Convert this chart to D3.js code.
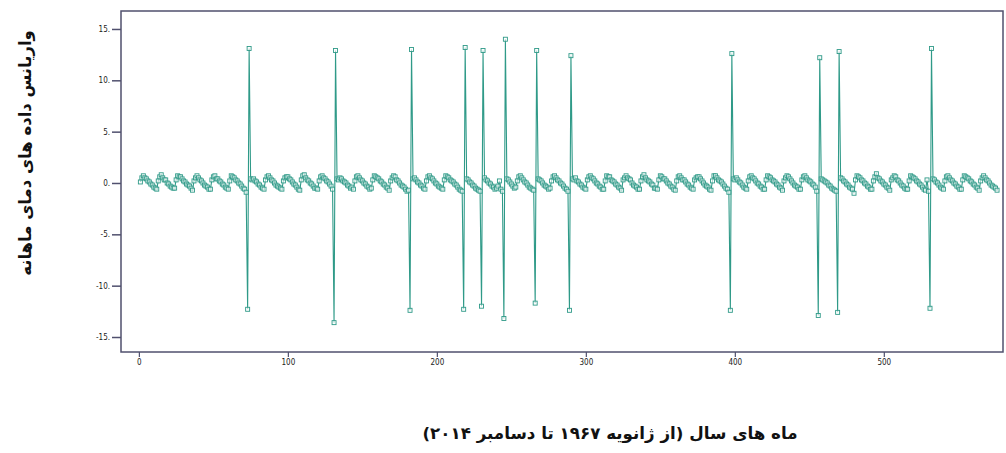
<!DOCTYPE html>
<html>
<head>
<meta charset="utf-8">
<script src="https://cdn.jsdelivr.net/npm/d3@7"></script>
<style>
  body { margin: 0; background: #fff; }
  svg { display: block; }
</style>
</head>
<body>
<svg width="1006" height="453"></svg>
<script>
// monthly values, one row per year (Jan 1967 .. Dec 2014)
var monthlyRows = [
  [0.1,0.5,0.7,0.5,0.4,0.2,0.1,-0.1,-0.2,-0.4,-0.5,-0.6],
  [0.2,0.6,0.8,0.5,0.3,0.3,0.0,-0.1,-0.3,-0.4,-0.5,-0.5],
  [0.3,0.7,0.6,0.6,0.4,0.2,0.1,-0.1,-0.2,-0.3,-0.5,-0.7],
  [0.2,0.5,0.7,0.5,0.3,0.2,0.0,-0.2,-0.3,-0.4,-0.6,-0.6],
  [0.3,0.6,0.7,0.4,0.4,0.2,0.1,-0.1,-0.2,-0.4,-0.5,-0.6],
  [0.2,0.7,0.6,0.5,0.3,0.2,0.0,-0.1,-0.3,-0.5,-0.6,-0.9],
  [0.0,0.0,0.4,0.3,0.4,0.2,0.1,-0.1,-0.2,-0.4,-0.5,-0.6],
  [0.3,0.6,0.7,0.5,0.3,0.2,0.0,-0.2,-0.3,-0.4,-0.5,-0.6],
  [0.2,0.5,0.6,0.6,0.4,0.3,0.1,-0.1,-0.2,-0.4,-0.6,-0.7],
  [0.3,0.7,0.8,0.5,0.3,0.2,0.0,-0.1,-0.3,-0.5,-0.5,-0.6],
  [0.2,0.6,0.7,0.5,0.4,0.2,0.1,-0.1,-0.3,-0.6,0.0,0.0],
  [0.4,0.3,0.5,0.4,0.2,0.1,0.0,-0.2,-0.3,-0.5,-0.4,-0.6],
  [0.2,0.6,0.7,0.5,0.3,0.2,0.0,-0.1,-0.3,-0.4,-0.6,-0.5],
  [0.3,0.7,0.6,0.5,0.4,0.2,0.1,-0.1,-0.2,-0.4,-0.5,-0.7],
  [0.2,0.5,0.7,0.6,0.3,0.2,0.0,-0.2,-0.3,-0.4,-0.6,-0.8],
  [-0.7,0.0,0.0,0.4,0.5,0.3,0.1,0.0,-0.2,-0.3,-0.5,-0.6],
  [0.2,0.6,0.7,0.5,0.4,0.2,0.0,-0.1,-0.3,-0.4,-0.5,-0.6],
  [0.3,0.7,0.6,0.5,0.3,0.2,0.1,-0.1,-0.2,-0.4,-0.6,-0.7],
  [-0.8,0.0,0.0,0.4,0.3,0.1,0.0,-0.2,-0.3,-0.5,-0.6,-0.7],
  [-0.8,0.0,0.0,0.5,0.3,0.2,0.0,-0.1,-0.3,-0.4,-0.6,-0.5],
  [-0.3,0.2,-0.6,-0.8,0.0,0.0,0.4,0.3,0.1,-0.1,-0.3,-0.5],
  [-0.4,0.2,0.6,0.7,0.5,0.3,0.1,0.0,-0.2,-0.4,-0.5,-0.6],
  [-0.7,0.0,0.0,0.4,0.3,0.2,0.0,-0.2,-0.3,-0.4,-0.6,-0.5],
  [0.2,0.6,0.7,0.5,0.3,0.2,0.0,-0.1,-0.3,-0.5,-0.6,-0.8],
  [0.0,0.0,0.4,0.3,0.5,0.2,0.1,-0.1,-0.2,-0.4,-0.5,-0.6],
  [0.3,0.6,0.7,0.5,0.4,0.2,0.0,-0.1,-0.3,-0.4,-0.6,-0.6],
  [0.2,0.7,0.6,0.6,0.3,0.2,0.1,-0.1,-0.2,-0.4,-0.5,-0.7],
  [0.3,0.5,0.7,0.5,0.4,0.3,0.0,-0.2,-0.3,-0.4,-0.6,-0.6],
  [0.2,0.6,0.8,0.5,0.3,0.2,0.1,-0.1,-0.2,-0.5,-0.5,-0.6],
  [0.3,0.7,0.6,0.4,0.4,0.2,0.0,-0.1,-0.3,-0.4,-0.6,-0.7],
  [0.2,0.6,0.7,0.5,0.3,0.3,0.1,-0.1,-0.2,-0.4,-0.5,-0.6],
  [0.3,0.5,0.6,0.6,0.4,0.2,0.0,-0.2,-0.3,-0.4,-0.6,-0.7],
  [0.2,0.7,0.7,0.5,0.3,0.2,0.1,-0.1,-0.3,-0.5,-0.6,-0.9],
  [0.0,0.0,0.4,0.3,0.5,0.3,0.1,0.0,-0.2,-0.4,-0.5,-0.6],
  [0.2,0.6,0.7,0.5,0.4,0.2,0.0,-0.1,-0.3,-0.4,-0.6,-0.6],
  [0.3,0.7,0.6,0.5,0.3,0.2,0.1,-0.1,-0.2,-0.4,-0.5,-0.7],
  [0.2,0.5,0.7,0.6,0.4,0.2,0.0,-0.2,-0.3,-0.4,-0.6,-0.6],
  [0.3,0.6,0.7,0.5,0.3,0.2,0.1,-0.1,-0.2,-0.4,-0.8,0.0],
  [0.0,0.4,0.3,0.2,0.1,0.0,-0.2,-0.3,-0.5,-0.6,-0.7,-0.8],
  [0.0,0.0,0.5,0.4,0.2,0.1,-0.1,-0.2,-0.4,-0.5,-0.6,-1.0],
  [0.3,0.7,0.6,0.5,0.3,0.2,0.0,-0.1,-0.3,-0.4,-0.6,-0.6],
  [0.2,0.6,0.9,0.5,0.4,0.2,0.1,-0.1,-0.2,-0.4,-0.5,-0.7],
  [0.3,0.5,0.7,0.6,0.3,0.2,0.0,-0.2,-0.3,-0.5,-0.6,-0.6],
  [0.2,0.7,0.6,0.5,0.4,0.2,0.1,-0.1,-0.2,-0.4,-0.6,-0.7],
  [0.3,-0.8,0.0,0.0,0.4,0.3,0.1,0.0,-0.2,-0.4,-0.5,-0.6],
  [0.2,0.6,0.7,0.5,0.3,0.2,0.0,-0.1,-0.3,-0.4,-0.6,-0.6],
  [0.3,0.7,0.6,0.5,0.4,0.2,0.1,-0.1,-0.2,-0.4,-0.5,-0.7],
  [0.2,0.5,0.7,0.5,0.3,0.2,0.0,-0.2,-0.3,-0.4,-0.5,-0.7]
];

// the big jumps: month number, low value, then high value the next month
var spikeMonths = [73, 131, 182, 218, 230, 245, 266, 289, 397, 456, 469, 531];
var spikeLow  = [-12.3, -13.6, -12.4, -12.3, -12.0, -13.2, -11.7, -12.4, -12.4, -12.9, -12.6, -12.2];
var spikeHigh = [13.1, 12.9, 13.0, 13.2, 12.9, 14.0, 12.9, 12.4, 12.6, 12.2, 12.8, 13.1];

var yTicks = [-15, -10, -5, 0, 5, 10, 15];
var xTicks = [0, 100, 200, 300, 400, 500];

var yTitle = "واریانس داده های دمای ماهانه";
var xTitle = "ماه های سال (از ژانویه ۱۹۶۷ تا دسامبر ۲۰۱۴)";

// flatten rows into {m, v}, then put the spikes in
var data = [];
monthlyRows.forEach(function(row, yi) {
    row.forEach(function(v, mi) {
        data.push({m: yi * 12 + mi + 1, v: v});
    });
});
spikeMonths.forEach(function(m, i) {
    data[m - 1].v = spikeLow[i];
    data[m].v = spikeHigh[i];
});

var svg = d3.select("svg");
// NOTE: "top" is taken by window.top, so use other names
var plotL = 121, plotR = 1003, plotT = 11, plotB = 352;
var frameCol = "#50506e";
var teal = "#2f9a88";

var scX = d3.scaleLinear().domain([-12, 580]).range([plotL, plotR]);
var scY = d3.scaleLinear().domain([-16.46, 16.75]).range([plotB, plotT]);

// plot frame
svg.append("rect")
    .attr("x", plotL).attr("y", plotT)
    .attr("width", plotR - plotL).attr("height", plotB - plotT)
    .attr("fill", "none").attr("stroke", frameCol).attr("stroke-width", 1.5);

var tickFont = "'Liberation Sans Narrow', 'DejaVu Sans Condensed', sans-serif";

// y axis
var gy = svg.append("g")
    .attr("transform", "translate(" + plotL + ",0)")
    .call(d3.axisLeft(scY).tickValues(yTicks).tickSize(9).tickPadding(2)
        .tickFormat(d => d + "."));
gy.select(".domain").remove();
gy.selectAll("line").attr("stroke", frameCol).attr("stroke-width", 1.5);
gy.selectAll("text").attr("font-family", tickFont).attr("font-size", 8).attr("fill", "#222");

// x axis
var gx = svg.append("g")
    .attr("transform", "translate(0," + plotB + ")")
    .call(d3.axisBottom(scX).tickValues(xTicks).tickSize(5).tickPadding(2)
        .tickFormat(d3.format("d")));
gx.select(".domain").remove();
gx.selectAll("line").attr("stroke", frameCol).attr("stroke-width", 1.2);
gx.selectAll("text").attr("font-family", tickFont).attr("font-size", 8).attr("fill", "#222");

// series line
var lnMkr = d3.line().x(d => scX(d.m)).y(d => scY(d.v));
svg.append("path")
    .attr("d", lnMkr(data))
    .attr("fill", "none").attr("stroke", teal).attr("stroke-width", 1.1);

// open square markers
svg.append("g").selectAll("rect")
    .data(data).enter()
    .append("rect")
    .attr("x", d => scX(d.m) - 2)
    .attr("y", d => scY(d.v) - 2)
    .attr("width", 4).attr("height", 4)
    .attr("fill", "#fff").attr("fill-opacity", 0.6)
    .attr("stroke", teal).attr("stroke-width", 0.9);

// titles
svg.append("text")
    .attr("transform", "translate(31,153) rotate(-90)")
    .attr("text-anchor", "middle")
    .attr("direction", "rtl")
    .attr("font-family", "'DejaVu Sans', sans-serif")
    .attr("font-weight", "bold").attr("font-size", 16.5)
    .attr("fill", "#111")
    .text(yTitle);

svg.append("text")
    .attr("x", 610).attr("y", 439)
    .attr("text-anchor", "middle")
    .attr("direction", "rtl")
    .attr("font-family", "'DejaVu Sans', sans-serif")
    .attr("font-weight", "bold").attr("font-size", 16.7)
    .attr("fill", "#111")
    .text(xTitle);
</script>
</body>
</html>
